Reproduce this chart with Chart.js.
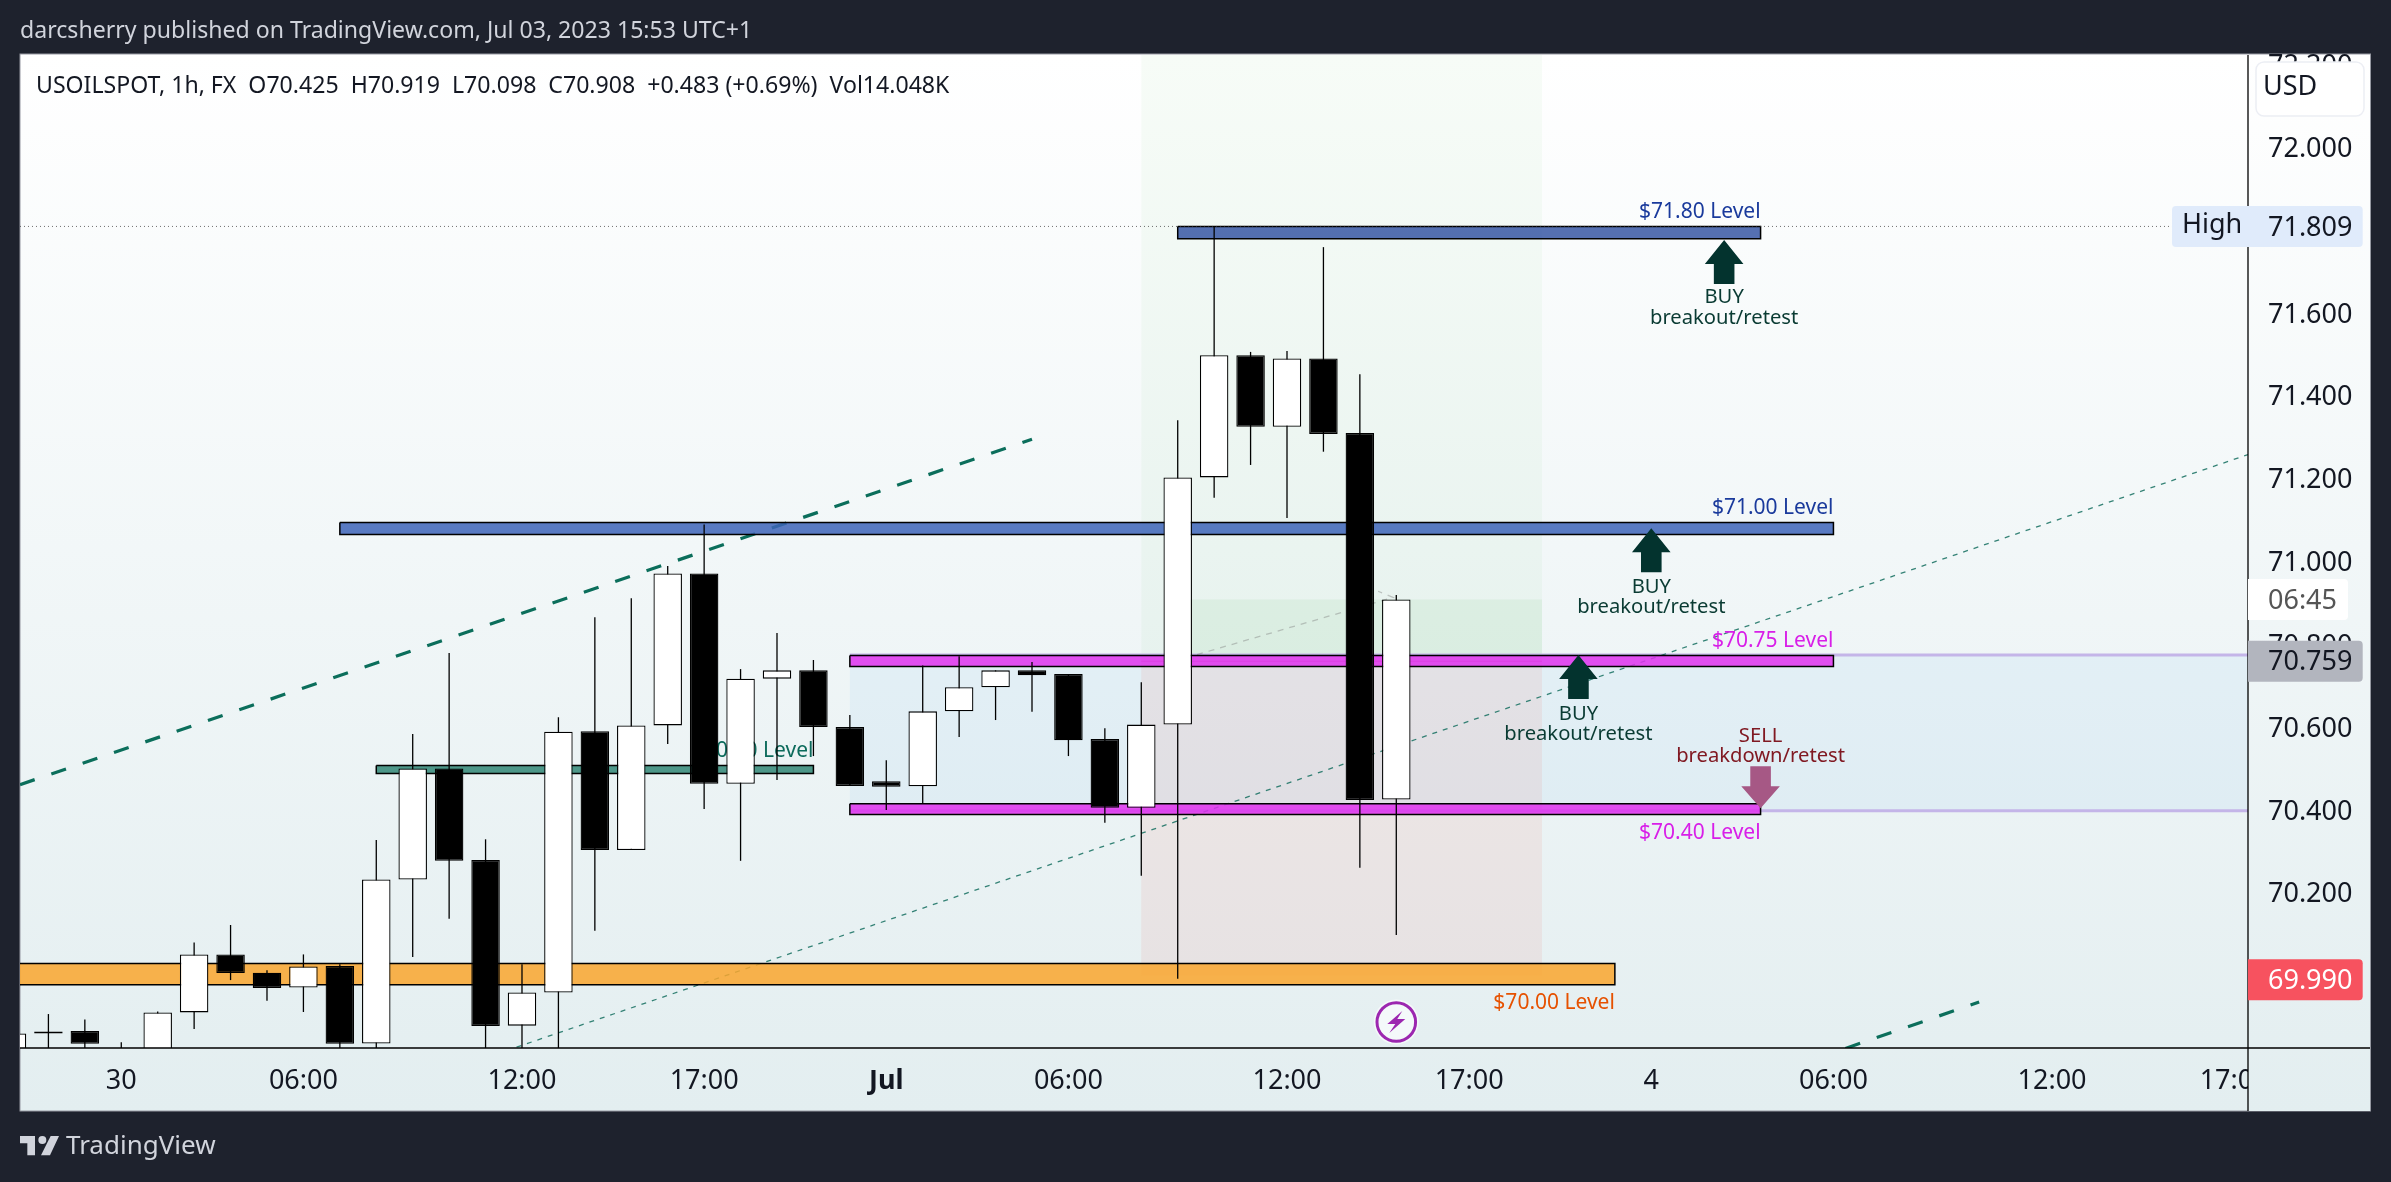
<!DOCTYPE html>
<html><head><meta charset="utf-8">
<style>html,body{margin:0;padding:0;background:#1e222d}canvas{display:block}</style>
<script src="https://cdn.jsdelivr.net/npm/chart.js@4/dist/chart.umd.min.js"></script>
</head><body><canvas id="c" width="2391" height="1182"></canvas>
<script>
// ---- candles (hourly, index 0 = "30") ----
const barIndex=[-3,-2,-1,0,1,2,3,4,5,6,7,8,9,10,11,12,13,14,15,16,17,18,19,20,21,22,23,24,25,26,27,28,29,30,31,32,33,34,35];
const opens =[69.795,69.860,69.866,69.800,69.780,69.911,70.051,70.007,69.971,70.023,69.836,70.232,70.500,70.279,69.879,69.959,70.590,70.303,70.604,70.971,70.463,70.717,70.737,70.600,70.469,70.457,70.638,70.696,70.737,70.728,70.571,70.405,70.606,71.203,71.498,71.325,71.490,71.310,70.425];
const closes=[69.860,69.865,69.835,69.780,69.911,70.051,70.006,69.970,70.022,69.835,70.232,70.500,70.277,69.878,69.959,70.589,70.303,70.604,70.971,70.463,70.717,70.737,70.600,70.458,70.456,70.638,70.696,70.737,70.725,70.568,70.405,70.606,71.203,71.498,71.325,71.490,71.308,70.424,70.908];
const highs =[69.860,69.907,69.894,69.839,69.913,70.080,70.122,70.013,70.051,70.027,70.327,70.583,70.779,70.329,70.027,70.624,70.865,70.911,70.989,71.089,70.740,70.827,70.762,70.629,70.520,70.749,70.771,70.737,70.757,70.728,70.597,70.708,71.341,71.809,71.506,71.508,71.759,71.452,70.919];
const lows  =[69.780,69.795,69.808,69.760,69.760,69.871,69.989,69.939,69.912,69.790,69.800,70.045,70.137,69.790,69.800,69.790,70.108,70.303,70.559,70.402,70.277,70.472,70.530,70.458,70.400,70.416,70.576,70.617,70.637,70.530,70.369,70.241,69.992,71.154,71.233,71.105,71.265,70.260,70.098];

// ---- axes ----
const xMin=-2.78, xMax=58.38, yMin=69.825, yMax=72.223;
const xTickValues=[0,5,11,16,21,26,32,37,42,47,53,58];
const xTickLabels=['30','06:00','12:00','17:00','Jul','06:00','12:00','17:00','4','06:00','12:00','17:00'];
const yTickValues=[70.0,70.2,70.4,70.6,70.8,71.0,71.2,71.4,71.6,71.8,72.0,72.2];

// ---- horizontal levels: [fromIndex,toIndex,topPrice,bottomPrice] ----
const level7180=[29,45,71.809,71.779];
const level7100=[6,47,71.094,71.065];
const level7050=[7,19,70.507,70.488];
const level7075=[20,47,70.773,70.746];
const level7040=[20,45,70.415,70.389];
const level7000=[-10,41,70.029,69.978];

// ---- position-tool zones ----
const zoneRange=[20,60,70.774,70.398];
const greenZone=[28,39,72.4,70.774];
const greenInner=[29,39,70.908,70.774];
const redZone=[28,39,70.774,70.0];
const entryLine=[[28,70.759],[39,70.759]];
const lavenderTop=[[20,70.774],[60,70.774]];
const lavenderBottom=[[20,70.398],[60,70.398]];
const highLine=[[-3,71.809],[58.38,71.809]];

// ---- trend lines ----
const channelUpperA=[[-2.78,70.461],[25,71.295]];
const channelUpperB=[[47.33,69.824],[51,69.936]];
const channelLower=[[10.85,69.827],[58.38,71.258]];
const greyPath=[[29.53,70.775],[34.91,70.913],[34.5,70.928]];

// ---- annotations ----
const levelTexts=['$71.80 Level','$71.00 Level','$70.75 Level','$70.40 Level','$70.00 Level'];
const levelTextX=[45,47,47,45,41];
const levelTextY=[71.845,71.130,70.808,70.345,69.934];
const levelTextColors=['#1a3a9c','#1a3a9c','#d81fe8','#d81fe8','#e65100'];
const hiddenText='$70.50 Level', hiddenTextX=19, hiddenTextY=70.541;
const arrowX=[44,42,40], arrowTipY=[71.776,71.080,70.774];
const buyWord='BUY', buyLine='breakout/retest';
const buyWordY=[71.637,70.938,70.632], buyLineY=[71.587,70.889,70.582];
const sellArrowX=45, sellTipY=70.404, sellWord='SELL', sellLine='breakdown/retest', sellWordY=70.578, sellLineY=70.529;
const titleText='darcsherry published on TradingView.com, Jul 03, 2023 15:53 UTC+1';
const legendText='USOILSPOT, 1h, FX  O70.425  H70.919  L70.098  C70.908  +0.483 (+0.69%)  Vol14.048K';
const highValue=71.809, lastValue=70.759, bidValue=69.990, closeValue=70.908, eventIndex=35;
const countdownText='06:45', currencyText='USD', highText='High', brandText='TradingView';

const FONT='"Noto Sans"';
const DARK='#1e222d';
function panelGrad(ctx){const g=ctx.createLinearGradient(0,55,0,1111);g.addColorStop(0,'#ffffff');g.addColorStop(1,'#e3eef0');return g;}
function rr(ctx,x,y,w,h,r){ctx.beginPath();ctx.roundRect(x,y,w,h,r);}
function poly(a){const [x0,x1,t,b]=a;return [{x:x0,y:t},{x:x1,y:t},{x:x1,y:b},{x:x0,y:b},{x:x0,y:t}];}
function seg(a){return a.map(p=>({x:p[0],y:p[1]}));}
function shape(a,fill,border,order){return {type:'line',data:poly(a),backgroundColor:fill,borderColor:border||'rgba(0,0,0,0)',borderWidth:border?1.5:0,fill:'shape',pointRadius:0,tension:0,order,clip:0,borderJoinStyle:'miter'};}
function line(a,color,w,dash,order){return {type:'line',data:seg(a),borderColor:color,borderWidth:w,borderDash:dash||[],fill:false,pointRadius:0,tension:0,order,clip:0};}

const bodyData=barIndex.map((x,i)=>({x,y:[opens[i],closes[i]]}));
const wickData=barIndex.map((x,i)=>({x,y:[lows[i],highs[i]]}));

const decor={id:'decor',
 beforeDraw(chart){const c=chart.ctx;c.save();
  c.fillStyle=DARK;c.fillRect(0,0,2391,1182);
  c.fillStyle=panelGrad(c);c.fillRect(20,54,2350.5,1057);
  c.strokeStyle='#9598a1';c.lineWidth=1;c.strokeRect(20,54,2350.5,1057);
  c.fillStyle='#d1d4dc';c.font='23.1px '+FONT;c.textBaseline='middle';c.textAlign='left';c.fillText(titleText,20,31);
  c.fillStyle='#d1d4dc';c.font='26px '+FONT;c.fillText(brandText,66,1147);
  // logo
  const o=(x,y)=>[10+x/3,1100+y/3];
  const P=(pts)=>{c.beginPath();pts.forEach((p,i)=>{const q=o(p[0],p[1]);i?c.lineTo(q[0],q[1]):c.moveTo(q[0],q[1]);});c.closePath();c.fill();};
  P([[30,108],[75,108],[75,166],[52,166],[52,130],[30,130]]);
  P([[122,108],[147,108],[120,166],[93,166]]);
  const q=o(97,120);c.beginPath();c.arc(q[0],q[1],4,0,7);c.fill();
  c.restore();},
 beforeDatasetsDraw(chart){const c=chart.ctx,X=chart.scales.x,Y=chart.scales.y;c.save();
  c.font='21px '+FONT;c.textBaseline='middle';c.textAlign='right';c.fillStyle='#0d6b5c';
  c.fillText(hiddenText,X.getPixelForValue(hiddenTextX),Y.getPixelForValue(hiddenTextY));c.restore();},
 afterDatasetsDraw(chart){const c=chart.ctx,X=chart.scales.x,Y=chart.scales.y,A=chart.chartArea;c.save();
  const px=v=>X.getPixelForValue(v),py=v=>Y.getPixelForValue(v);
  // level texts
  c.font='21px '+FONT;c.textBaseline='middle';c.textAlign='right';
  levelTexts.forEach((t,i)=>{c.fillStyle=levelTextColors[i];c.fillText(t,px(levelTextX[i]),py(levelTextY[i]));});
  // buy arrows
  c.textAlign='center';c.font='20.2px '+FONT;
  arrowX.forEach((v,i)=>{const x=px(v),y=py(arrowTipY[i]);c.fillStyle='#03332e';c.beginPath();
    c.moveTo(x,y);c.lineTo(x+19.3,y+24);c.lineTo(x+10.3,y+24);c.lineTo(x+10.3,y+44);c.lineTo(x-10.3,y+44);c.lineTo(x-10.3,y+24);c.lineTo(x-19.3,y+24);c.closePath();c.fill();
    c.fillStyle='#0a3b33';c.fillText(buyWord,x,py(buyWordY[i]));c.fillText(buyLine,x,py(buyLineY[i]));});
  // sell arrow
  {const x=px(sellArrowX),y=py(sellTipY);c.fillStyle='#a65885';c.beginPath();
    c.moveTo(x,y);c.lineTo(x+19.3,y-22);c.lineTo(x+10.3,y-22);c.lineTo(x+10.3,y-42);c.lineTo(x-10.3,y-42);c.lineTo(x-10.3,y-22);c.lineTo(x-19.3,y-22);c.closePath();c.fill();
    c.fillStyle='#801922';c.fillText(sellWord,x,py(sellWordY));c.fillText(sellLine,x,py(sellLineY));}
  // event marker
  {const x=px(eventIndex),y=A.bottom-26;c.fillStyle='#f4f9fa';c.beginPath();c.arc(x,y,22.5,0,7);c.fill();
    c.strokeStyle='#9c27b0';c.lineWidth=3;c.beginPath();c.arc(x,y,19.3,0,7);c.stroke();
    c.fillStyle='#9c27b0';c.beginPath();c.moveTo(x+6,y-11);c.lineTo(x-9,y+2);c.lineTo(x-1,y+2);c.lineTo(x-7,y+11);c.lineTo(x+9,y-3);c.lineTo(x+1,y-3);c.closePath();c.fill();}
  // legend line
  c.fillStyle='#131722';c.font='23.1px '+FONT;c.textAlign='left';c.fillText(legendText,36,86);
  c.restore();},
 afterDraw(chart){const c=chart.ctx,A=chart.chartArea,Y=chart.scales.y;c.save();
  // right end of time axis under price strip
  c.save();c.beginPath();c.rect(A.right,A.bottom+1,2370-A.right,62);c.clip();c.fillStyle=panelGrad(c);c.fillRect(A.right,A.bottom,130,63);c.restore();
  c.strokeStyle='#000';c.lineWidth=1.3;
  c.beginPath();c.moveTo(A.right,55);c.lineTo(A.right,1111);c.moveTo(20,A.bottom);c.lineTo(2370,A.bottom);c.stroke();
  c.textBaseline='middle';c.textAlign='left';c.font='27px '+FONT;
  const lx=2268;
  // currency box
  c.fillStyle='#fff';c.strokeStyle='#eceef4';c.lineWidth=1.5;rr(c,2256,62,108,54,8);c.fill();c.stroke();
  c.fillStyle='#131722';c.fillText(currencyText,2263,87);
  // high
  let y=Y.getPixelForValue(highValue);
  c.fillStyle='#e0ebfb';rr(c,2172,y-20.5,190.7,41,4);c.fill();
  c.fillStyle='#131722';c.fillText(highText,2182,y-1);c.fillText(highValue.toFixed(3),lx,y+1.5);
  // countdown
  y=Y.getPixelForValue(closeValue);
  c.fillStyle='#fff';rr(c,A.right,y-20.5,100,41,[0,4,4,0]);c.fill();
  c.fillStyle='#555';c.fillText(countdownText,lx,y+1.5);
  // last
  y=Y.getPixelForValue(lastValue);
  c.fillStyle='#b2b5be';rr(c,A.right,y-20.5,114.7,41,[0,4,4,0]);c.fill();
  c.fillStyle='#131722';c.fillText(lastValue.toFixed(3),lx,y+1.5);
  // bid
  y=Y.getPixelForValue(bidValue);
  c.fillStyle='#f7525f';rr(c,A.right,y-20.5,114.7,41,[0,4,4,0]);c.fill();
  c.fillStyle='#fff';c.fillText(bidValue.toFixed(3),lx,y+1.5);
  c.restore();}
};

new Chart(document.getElementById('c'),{
 data:{datasets:[
  {type:'bar',label:'body',data:bodyData,grouped:false,barThickness:28.5,order:1,borderSkipped:false,borderWidth:1.3,
   borderColor:'#000',backgroundColor:barIndex.map((x,i)=>closes[i]>=opens[i]?'#ffffff':'#000000'),inflateAmount:0,clip:0},
  {type:'bar',label:'wick',data:wickData,grouped:false,barThickness:1.3,order:2,backgroundColor:'#000',borderWidth:0,inflateAmount:0,clip:0},
  line(highLine,'rgba(60,60,60,.75)',1,[1,3],3),
  shape(level7180,'rgba(55,87,165,.85)','#000',4),
  shape(level7100,'rgba(61,100,185,.85)','#000',4),
  shape(level7050,'rgba(49,134,117,.85)','#000',4),
  shape(level7075,'rgba(224,49,239,.85)','#000',4),
  shape(level7040,'rgba(224,49,239,.85)','#000',4),
  shape(level7000,'rgba(249,166,46,.85)','#000',4),
  line(channelUpperA,'#0b6e5b',3.2,[15.5,17.6],5),
  line(channelUpperB,'#0b6e5b',3.2,[15.5,17.6],5),
  line(channelLower,'rgba(20,110,95,.85)',1.3,[5,6],5),
  line(greyPath,'rgba(120,120,120,.4)',1.3,[6,6],5),
  line(entryLine,'rgba(190,50,110,.55)',1,[],6),
  line(lavenderTop,'#c4b5e8',3,[],6),
  line(lavenderBottom,'#c4b5e8',3,[],6),
  shape(greenInner,'rgba(76,175,80,.08)',null,7),
  shape(greenZone,'rgba(76,175,80,.045)',null,7),
  shape(redZone,'rgba(244,67,54,.08)',null,7),
  shape(zoneRange,'rgba(33,150,243,.06)',null,8)
 ]},
 options:{responsive:false,animation:false,devicePixelRatio:1,
  layout:{padding:{left:20,top:55,right:21,bottom:71}},
  plugins:{legend:{display:false},tooltip:{enabled:false}},
  scales:{
   x:{type:'linear',offset:false,min:xMin,max:xMax,grid:{display:false,drawTicks:false},border:{display:false},
      afterBuildTicks:a=>{a.ticks=xTickValues.map(v=>({value:v}));},
      afterFit:a=>{a.height=63;},
      ticks:{autoSkip:false,maxRotation:0,padding:17,color:'#131722',
        font:ctx=>{const l=xTickLabels[xTickValues.indexOf(ctx.tick&&ctx.tick.value)];return {family:FONT,size:27,weight:l==='Jul'?'bold':'normal'};},
        callback:v=>xTickLabels[xTickValues.indexOf(v)]}},
   y:{type:'linear',position:'right',min:yMin,max:yMax,grid:{display:false,drawTicks:false},border:{display:false},
      afterBuildTicks:a=>{a.ticks=yTickValues.map(v=>({value:v}));},
      afterFit:a=>{a.width=122;},
      ticks:{autoSkip:false,padding:20,labelOffset:2,color:'#131722',font:{family:FONT,size:27},callback:v=>Number(v).toFixed(3)}}
  }},
 plugins:[decor]
});
</script></body></html>
